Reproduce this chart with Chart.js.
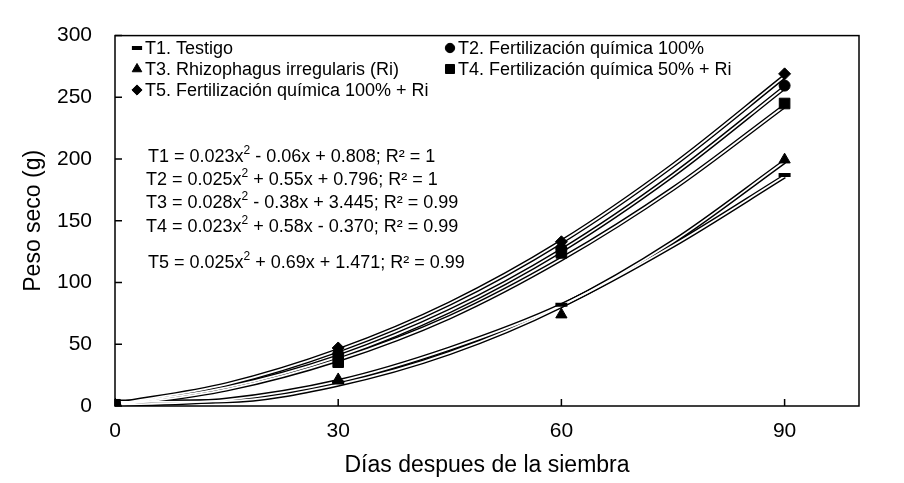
<!DOCTYPE html>
<html>
<head>
<meta charset="utf-8">
<script src="https://cdn.jsdelivr.net/npm/chart.js@4.4.1/dist/chart.umd.min.js"></script>
<style>
  html,body{margin:0;padding:0;background:#fff;}
  #wrap{position:relative;width:904px;height:483px;}
</style>
</head>
<body>
<div id="wrap"><canvas id="c"></canvas></div>
<script>
/* ===== DATA ===== */
const xTickValues=[0,30,60,90];
const yTickValues=[0,50,100,150,200,250,300];

// measured points (days after sowing)
const days=[0,30,60,90];
const t1=[1,19,82,187];
const t2=[1,42,127.5,259.5];
const t3=[1,21.5,74,199.5];
const t4=[1,35.5,124,245];
const t5=[1.5,47,133,269];

// trend lines
const curveDays=[0,15,30,45,60,75,90];
const fitT1=[0.8,5,20,46.5,81.5,130,186];
const fitT2=[1,15,40,77,126,187,258];
const fitT3=[3.4,4,17.5,43,81,133,198];
const fitT4=[0,13.5,37.5,72,119,176,243];
const fitT5=[1.5,17.5,45,83,133,195,267];

const seriesLabels=['T1. Testigo','T2. Fertilización química 100%','T3. Rhizophagus irregularis (Ri)','T4. Fertilización química 50% + Ri','T5. Fertilización química 100% + Ri'];
const equations=[
  'T1 = 0.023x^2 - 0.06x + 0.808; R² = 1',
  'T2 = 0.025x^2 + 0.55x + 0.796; R² = 1',
  'T3 = 0.028x^2 - 0.38x + 3.445; R² = 0.99',
  'T4 = 0.023x^2 + 0.58x - 0.370; R² = 0.99',
  'T5 = 0.025x^2 + 0.69x + 1.471; R² = 0.99'
];
const xTitle='Días despues de la siembra';
const yTitle='Peso seco (g)';

/* ===== STYLE ===== */
const FONT='"Liberation Sans", Arial, sans-serif';
const markerStyles=[
  {pointStyle:'line',radius:6,borderWidth:4},
  {pointStyle:'circle',radius:5.5,borderWidth:1},
  {pointStyle:'triangle',radius:6.5,borderWidth:1},
  {pointStyle:'rect',radius:7.5,borderWidth:1},
  {pointStyle:'rectRot',radius:6,borderWidth:1}
];
const pointSeries=[t1,t2,t3,t4,t5];
const fitSeries=[fitT1,fitT2,fitT3,fitT4,fitT5];

const toXY=(xs,ys)=>xs.map((x,i)=>({x,y:ys[i]}));

const datasets=[];
pointSeries.forEach((s,i)=>{
  const m=markerStyles[i];
  datasets.push({
    label:seriesLabels[i],data:toXY(days,s),showLine:false,order:0,
    pointStyle:m.pointStyle,pointRadius:m.radius,pointBorderWidth:m.borderWidth,
    pointBackgroundColor:'#000',pointBorderColor:'#000'
  });
});
fitSeries.forEach((s,i)=>{
  // double line: black outline + white core
  datasets.push({label:'core'+i,data:toXY(curveDays,s),showLine:true,order:1,
    borderColor:'#fff',borderWidth:1.8,pointRadius:0,cubicInterpolationMode:'monotone',fill:false});
  datasets.push({label:'edge'+i,data:toXY(curveDays,s),showLine:true,order:2,
    borderColor:'#000',borderWidth:4.6,pointRadius:0,cubicInterpolationMode:'monotone',fill:false});
});

/* ===== PLUGINS ===== */
const frame={
  id:'frame',
  afterDraw(chart){
    const {ctx,chartArea:a,scales:{x,y}}=chart;
    ctx.save();
    ctx.strokeStyle='#000';ctx.lineWidth=1.5;
    ctx.strokeRect(a.left,a.top,a.right-a.left,a.bottom-a.top);
    ctx.beginPath();
    xTickValues.forEach(v=>{const p=x.getPixelForValue(v);ctx.moveTo(p,a.bottom);ctx.lineTo(p,a.bottom-7);});
    yTickValues.forEach(v=>{const p=y.getPixelForValue(v);ctx.moveTo(a.left,p);ctx.lineTo(a.left+7,p);});
    ctx.stroke();
    ctx.restore();
  }
};

const legendBox={
  id:'legendBox',
  afterDraw(chart){
    const ctx=chart.ctx;
    const colX=[137,450], rowY=[48,69,90];
    ctx.save();
    ctx.fillStyle='#000';ctx.strokeStyle='#000';
    ctx.font='18px '+FONT;ctx.textBaseline='middle';ctx.textAlign='left';
    seriesLabels.forEach((lab,i)=>{
      const cx=colX[i%2], cy=rowY[Math.floor(i/2)];
      const m=markerStyles[i];
      ctx.lineWidth=m.borderWidth;
      Chart.helpers.drawPoint(ctx,{pointStyle:m.pointStyle,radius:m.radius*0.85,borderWidth:m.pointStyle==='line'?3.5:1,rotation:0},cx,cy);
      ctx.fillText(lab,cx+8,cy+1);
    });
    ctx.restore();
  }
};

const equationText={
  id:'equationText',
  afterDraw(chart){
    const ctx=chart.ctx;
    const ex=[148,146,146,146,148], ey=[157,180,203,227,263];
    ctx.save();
    ctx.fillStyle='#000';ctx.textBaseline='middle';ctx.textAlign='left';
    equations.forEach((eq,i)=>{
      const [a,b]=eq.split('^2');
      let x=ex[i];
      ctx.font='18px '+FONT;
      ctx.fillText(a,x,ey[i]);x+=ctx.measureText(a).width;
      ctx.font='12px '+FONT;
      ctx.fillText('2',x,ey[i]-6);x+=ctx.measureText('2').width;
      ctx.font='18px '+FONT;
      ctx.fillText(b,x,ey[i]);
    });
    ctx.restore();
  }
};

/* ===== CHART ===== */
new Chart(document.getElementById('c'),{
  type:'scatter',
  data:{datasets},
  plugins:[frame,legendBox,equationText],
  options:{
    responsive:true,maintainAspectRatio:false,animation:false,
    layout:{padding:{top:31,right:45,left:0,bottom:0}},
    plugins:{legend:{display:false},tooltip:{enabled:false}},
    scales:{
      x:{type:'linear',min:0,max:100,
        afterBuildTicks:s=>{s.ticks=xTickValues.map(v=>({value:v}));},
        afterFit:s=>{s.height=77;},
        grid:{display:false,drawTicks:false},border:{display:false},
        ticks:{color:'#000',font:{family:FONT,size:21},padding:13,maxRotation:0},
        title:{display:true,text:xTitle,color:'#000',font:{family:FONT,size:23},padding:{top:0,bottom:4}}
      },
      y:{type:'linear',min:0,max:300,
        afterBuildTicks:s=>{s.ticks=yTickValues.map(v=>({value:v}));},
        afterFit:s=>{s.width=115;},
        grid:{display:false,drawTicks:false},border:{display:false},
        ticks:{color:'#000',font:{family:FONT,size:21},padding:23},
        title:{display:true,text:yTitle,color:'#000',font:{family:FONT,size:23},padding:{top:20,bottom:0}}
      }
    }
  }
});
</script>
</body>
</html>
